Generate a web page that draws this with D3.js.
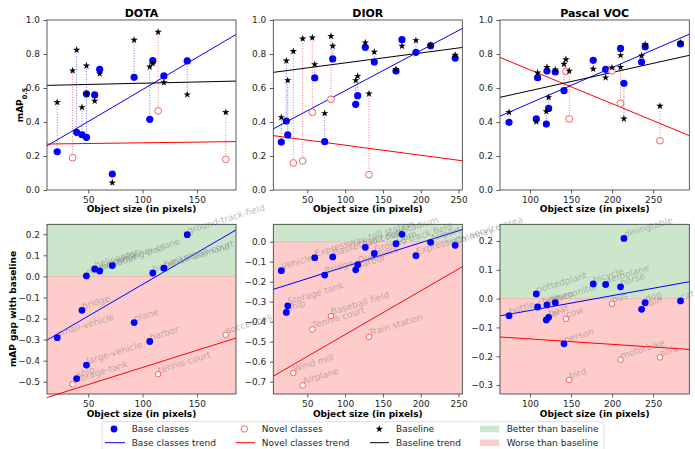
<!DOCTYPE html>
<html>
<head>
<meta charset="utf-8">
<script src="https://cdn.jsdelivr.net/npm/d3@7"></script>
<style>
  body { margin: 0; background: #fff; }
  svg { display: block; font-family: "DejaVu Sans", sans-serif; }
</style>
</head>
<body>
<svg id="chart" width="695" height="449"></svg>
<script>
// ---- datos ----
// DOTA
const dotaClasses = ["small-vehicle", "storage-tank", "ship", "bridge", "large-vehicle", "roundabout", "helicopter",
  "swimming-pool", "container-crane", "plane", "harbor", "baseball-diamond", "tennis-court", "basketball-court",
  "ground-track-field", "soccer-ball-field"];
const dotaSize     = [21.4, 35.6, 39.3, 44.2, 48.3, 48.3, 55.9, 60.5, 72.1, 92.2, 106.6, 109.4, 114.3, 119.6, 141.1, 176.6];
const dotaScore    = [0.225, 0.19, 0.339, 0.325, 0.31, 0.566, 0.559, 0.71, 0.094, 0.663, 0.416, 0.761, 0.465, 0.671, 0.759, 0.18];
const dotaBaseline = [0.516, 0.702, 0.824, 0.486, 0.731, 0.564, 0.524, 0.684, 0.043, 0.882, 0.725, 0.745, 0.929, 0.632, 0.561, 0.457];
const dotaNovel    = [0, 1, 0, 0, 0, 0, 0, 0, 0, 0, 0, 0, 1, 0, 0, 1];

// DIOR
const diorClasses = ["Vehicle", "Ship", "Storage tank", "Wind mill", "Airplane", "Tennis court", "Expressway toll station",
  "Bridge", "Baseball field", "Basketball court", "Harbor", "Overpass", "Golf field", "Train station",
  "Ground track field", "Dam", "Stadium", "Expressway service area", "Airport", "Chimney"];
const diorSize     = [15.6, 22.2, 24.1, 31.5, 43.9, 56.6, 59.8, 73, 81.3, 83.6, 114, 116.6, 126.7, 131.6, 138.6, 167.3, 175.2, 193.7, 213.1, 245.6];
const diorScore    = [0.282, 0.406, 0.324, 0.159, 0.171, 0.457, 0.659, 0.284, 0.533, 0.771, 0.504, 0.555, 0.839, 0.09, 0.753, 0.70, 0.884, 0.81, 0.849, 0.776];
const diorBaseline = [0.427, 0.76, 0.645, 0.816, 0.89, 0.896, 0.739, 0.451, 0.905, 0.847, 0.645, 0.67, 0.867, 0.566, 0.812, 0.71, 0.847, 0.88, 0.852, 0.794];
const diorNovel    = [0, 0, 0, 1, 1, 1, 0, 0, 1, 0, 0, 0, 0, 1, 0, 0, 0, 0, 0, 0];

// Pascal VOC
const vocClasses = ["bottle", "pottedplant", "chair", "car", "sheep", "boat", "tvmonitor", "person", "cow", "bird",
  "bicycle", "aeroplane", "bus", "horse", "motorbike", "diningtable", "train", "dog", "sofa", "cat"];
const vocSize     = [74.5, 107.7, 109.3, 119.9, 120.7, 122.7, 130.8, 141.4, 143.8, 147.8, 177, 192.1, 199.8, 210.3, 210.3, 214.4, 235.9, 240.3, 258.2, 283.3];
const vocScore    = [0.398, 0.418, 0.661, 0.388, 0.70, 0.48, 0.694, 0.584, 0.698, 0.418, 0.763, 0.71, 0.702, 0.833, 0.51, 0.628, 0.753, 0.843, 0.29, 0.859];
const vocBaseline = [0.457, 0.402, 0.69, 0.462, 0.722, 0.545, 0.708, 0.741, 0.768, 0.70, 0.712, 0.661, 0.72, 0.792, 0.722, 0.419, 0.79, 0.857, 0.494, 0.867];
const vocNovel    = [0, 0, 0, 0, 0, 0, 0, 0, 1, 1, 0, 0, 1, 0, 1, 0, 0, 0, 1, 0];

// ejes
const titles = ["DOTA", "DIOR", "Pascal VOC"];
const sizeDomains = [[12, 186], [5, 255], [63.5, 294]];
const sizeTicks = [[50, 100, 150], [50, 100, 150, 200, 250], [100, 150, 200, 250]];
const mapTicks = [0, 0.2, 0.4, 0.6, 0.8, 1.0];
const gapDomains = [[-0.558, 0.247], [-0.762, 0.087], [-0.331, 0.258]];
const gapTicks = [[-0.5, -0.4, -0.3, -0.2, -0.1, 0, 0.1, 0.2],
                  [-0.7, -0.6, -0.5, -0.4, -0.3, -0.2, -0.1, 0],
                  [-0.3, -0.2, -0.1, 0, 0.1, 0.2]];

const datasets = [
  { classes: dotaClasses, size: dotaSize, score: dotaScore, baseline: dotaBaseline, novel: dotaNovel },
  { classes: diorClasses, size: diorSize, score: diorScore, baseline: diorBaseline, novel: diorNovel },
  { classes: vocClasses,  size: vocSize,  score: vocScore,  baseline: vocBaseline,  novel: vocNovel }
];

// ---- layout ----
const colX = [[47, 236], [273.3, 462.3], [500, 689.3]];
const topY = [190, 20];
const botY = [394, 224.3];

const svg = d3.select("#chart");
const blue = "#0000ff", red = "#ff0000";
const star = d3.symbol().type(d3.symbolStar).size(17);

// regresion lineal simple (como hace la figura original)
function fit(xs, ys) {
  var mx = d3.mean(xs), my = d3.mean(ys);
  var num = 0, den = 0;
  xs.forEach(function (x, i) { num += (x - mx) * (ys[i] - my); den += (x - mx) * (x - mx); });
  var b = num / den;
  return function (x) { return my + b * (x - mx); };
}

function drawAxes(g, x, y, xt, yt, yfmt) {
  var ax = g.append("g")
    .attr("transform", "translate(0," + y.range()[0] + ")")
    .call(d3.axisBottom(x).tickValues(xt).tickSize(3.5).tickPadding(3.5).tickFormat(d3.format("d")));
  var ay = g.append("g")
    .attr("transform", "translate(" + x.range()[0] + ",0)")
    .call(d3.axisLeft(y).tickValues(yt).tickSize(3.5).tickPadding(3.5).tickFormat(yfmt));
  [ax, ay].forEach(function (a) {
    a.select(".domain").remove();
    a.selectAll("line").attr("stroke", "#333").attr("stroke-width", 0.8);
    a.selectAll("text").attr("fill", "#262626").style("font-size", "9px")
      .style("font-family", "'DejaVu Sans', sans-serif");
  });
  g.append("rect")
    .attr("x", x.range()[0]).attr("y", y.range()[1])
    .attr("width", x.range()[1] - x.range()[0])
    .attr("height", y.range()[0] - y.range()[1])
    .attr("fill", "none").attr("stroke", "#333").attr("stroke-width", 0.8);
}

datasets.forEach(function (ds, c) {
  var idx = d3.range(ds.classes.length);
  var baseIdx = idx.filter(function (i) { return !ds.novel[i]; });
  var novIdx = idx.filter(function (i) { return ds.novel[i]; });
  var gap = idx.map(function (i) { return ds.score[i] - ds.baseline[i]; });

  var x = d3.scaleLinear().domain(sizeDomains[c]).range(colX[c]);
  var y = d3.scaleLinear().domain([0, 1]).range(topY);
  var yg = d3.scaleLinear().domain(gapDomains[c]).range(botY);
  var x0 = sizeDomains[c][0], x1 = sizeDomains[c][1];
  var cx = (colX[c][0] + colX[c][1]) / 2;

  // ---------- fila superior: mAP ----------
  var g = svg.append("g");

  g.selectAll(".conn").data(idx).enter().append("line")
    .attr("x1", function (i) { return x(ds.size[i]); })
    .attr("x2", function (i) { return x(ds.size[i]); })
    .attr("y1", function (i) { return y(ds.score[i]); })
    .attr("y2", function (i) { return y(ds.baseline[i]); })
    .attr("stroke", function (i) { return ds.novel[i] ? red : blue; })
    .attr("stroke-opacity", 0.55).attr("stroke-width", 1)
    .attr("stroke-dasharray", "1,1.6");

  var fb = fit(baseIdx.map(function (i) { return ds.size[i]; }), baseIdx.map(function (i) { return ds.score[i]; }));
  var fn = fit(novIdx.map(function (i) { return ds.size[i]; }), novIdx.map(function (i) { return ds.score[i]; }));
  var fk = fit(ds.size, ds.baseline);
  [[fb, blue], [fn, red], [fk, "#000"]].forEach(function (t) {
    g.append("line")
      .attr("x1", x(x0)).attr("x2", x(x1))
      .attr("y1", y(t[0](x0))).attr("y2", y(t[0](x1)))
      .attr("stroke", t[1]).attr("stroke-width", 1);
  });

  g.selectAll(".base").data(baseIdx).enter().append("circle")
    .attr("cx", function (i) { return x(ds.size[i]); })
    .attr("cy", function (i) { return y(ds.score[i]); })
    .attr("r", 3.6).attr("fill", blue);
  g.selectAll(".nov").data(novIdx).enter().append("circle")
    .attr("cx", function (i) { return x(ds.size[i]); })
    .attr("cy", function (i) { return y(ds.score[i]); })
    .attr("r", 3.4).attr("fill", "#fff").attr("stroke", "#ff4d4d").attr("stroke-width", 0.9);
  g.selectAll(".star").data(idx).enter().append("path")
    .attr("d", star)
    .attr("transform", function (i) { return "translate(" + x(ds.size[i]) + "," + y(ds.baseline[i]) + ")"; })
    .attr("fill", "#000");

  drawAxes(g, x, y, sizeTicks[c], mapTicks, d3.format(".1f"));

  g.append("text").attr("x", cx).attr("y", 16.5).attr("text-anchor", "middle")
    .style("font-size", "11px").style("font-weight", "bold").text(titles[c]);
  g.append("text").attr("x", cx).attr("y", 212).attr("text-anchor", "middle")
    .style("font-size", "9px").style("font-weight", "bold").text("Object size (in pixels)");

  // ---------- fila inferior: diferencia con baseline ----------
  var h = svg.append("g");
  h.append("rect").attr("x", colX[c][0]).attr("width", colX[c][1] - colX[c][0])
    .attr("y", botY[1]).attr("height", yg(0) - botY[1]).attr("fill", "#cce6cc");
  h.append("rect").attr("x", colX[c][0]).attr("width", colX[c][1] - colX[c][0])
    .attr("y", yg(0)).attr("height", botY[0] - yg(0)).attr("fill", "#ffcccc");
  h.append("line").attr("x1", colX[c][0]).attr("x2", colX[c][1])
    .attr("y1", yg(0)).attr("y2", yg(0)).attr("stroke", "#f0b8b0").attr("stroke-width", 1);

  var gb = fit(baseIdx.map(function (i) { return ds.size[i]; }), baseIdx.map(function (i) { return gap[i]; }));
  var gn = fit(novIdx.map(function (i) { return ds.size[i]; }), novIdx.map(function (i) { return gap[i]; }));
  [[gb, blue], [gn, red]].forEach(function (t) {
    h.append("line")
      .attr("x1", x(x0)).attr("x2", x(x1))
      .attr("y1", yg(t[0](x0))).attr("y2", yg(t[0](x1)))
      .attr("stroke", t[1]).attr("stroke-width", 1);
  });

  h.selectAll(".lbl").data(idx).enter().append("text")
    .attr("transform", function (i) {
      return "translate(" + (x(ds.size[i]) + 1) + "," + (yg(gap[i]) - 1) + ") rotate(-17)";
    })
    .attr("fill", "#808080").attr("fill-opacity", 0.55)
    .style("font-size", "9px")
    .text(function (i) { return ds.classes[i]; });

  h.selectAll(".base").data(baseIdx).enter().append("circle")
    .attr("cx", function (i) { return x(ds.size[i]); })
    .attr("cy", function (i) { return yg(gap[i]); })
    .attr("r", 3.4).attr("fill", blue);
  h.selectAll(".nov").data(novIdx).enter().append("circle")
    .attr("cx", function (i) { return x(ds.size[i]); })
    .attr("cy", function (i) { return yg(gap[i]); })
    .attr("r", 2.8).attr("fill", "#fff").attr("stroke", "#ff4d4d").attr("stroke-width", 0.9);

  drawAxes(h, x, yg, sizeTicks[c], gapTicks[c], d3.format(".1f"));
  h.append("text").attr("x", cx).attr("y", 416.5).attr("text-anchor", "middle")
    .style("font-size", "9px").style("font-weight", "bold").text("Object size (in pixels)");
});

// etiquetas del eje Y
var yl = svg.append("text").attr("transform", "translate(23,105) rotate(-90)")
  .attr("text-anchor", "middle").style("font-size", "9px").style("font-weight", "bold");
yl.append("tspan").text("mAP");
yl.append("tspan").attr("baseline-shift", "sub").style("font-size", "6.5px").text("0.5");
svg.append("text").attr("transform", "translate(16,309) rotate(-90)")
  .attr("text-anchor", "middle").style("font-size", "9px").style("font-weight", "bold")
  .text("mAP gap with baseline");

// ---- leyenda ----
var lg = svg.append("g");
lg.append("rect").attr("x", 102).attr("y", 421.7).attr("width", 502).attr("height", 30).attr("rx", 2)
  .attr("fill", "#fff").attr("fill-opacity", 0.8).attr("stroke", "#d6d6d6").attr("stroke-width", 0.8);
var r1 = 429, r2 = 442.7;
lg.append("circle").attr("cx", 114).attr("cy", r1).attr("r", 3.4).attr("fill", blue);
lg.append("line").attr("x1", 105).attr("x2", 125).attr("y1", r2).attr("y2", r2).attr("stroke", blue);
lg.append("circle").attr("cx", 244.3).attr("cy", r1).attr("r", 3.2).attr("fill", "#fff").attr("stroke", "#ff4d4d").attr("stroke-width", 0.9);
lg.append("line").attr("x1", 235.7).attr("x2", 255).attr("y1", r2).attr("y2", r2).attr("stroke", red);
lg.append("path").attr("d", star).attr("transform", "translate(379.3," + r1 + ")").attr("fill", "#000");
lg.append("line").attr("x1", 370).attr("x2", 389).attr("y1", r2).attr("y2", r2).attr("stroke", "#000");
lg.append("rect").attr("x", 480).attr("y", r1 - 3.3).attr("width", 19.3).attr("height", 6.6).attr("fill", "#cce6cc");
lg.append("rect").attr("x", 480).attr("y", r2 - 3.3).attr("width", 19.3).attr("height", 6.6).attr("fill", "#ffcccc");
var legendTexts = [["Base classes", 131.7, r1], ["Base classes trend", 131.7, r2],
  ["Novel classes", 261.7, r1], ["Novel classes trend", 261.7, r2],
  ["Baseline", 396, r1], ["Baseline trend", 396, r2],
  ["Better than baseline", 506.7, r1], ["Worse than baseline", 506.7, r2]];
legendTexts.forEach(function (t) {
  lg.append("text").attr("x", t[1]).attr("y", t[2] + 3.2).attr("fill", "#262626")
    .style("font-size", "9px").text(t[0]);
});
</script>
</body>
</html>
